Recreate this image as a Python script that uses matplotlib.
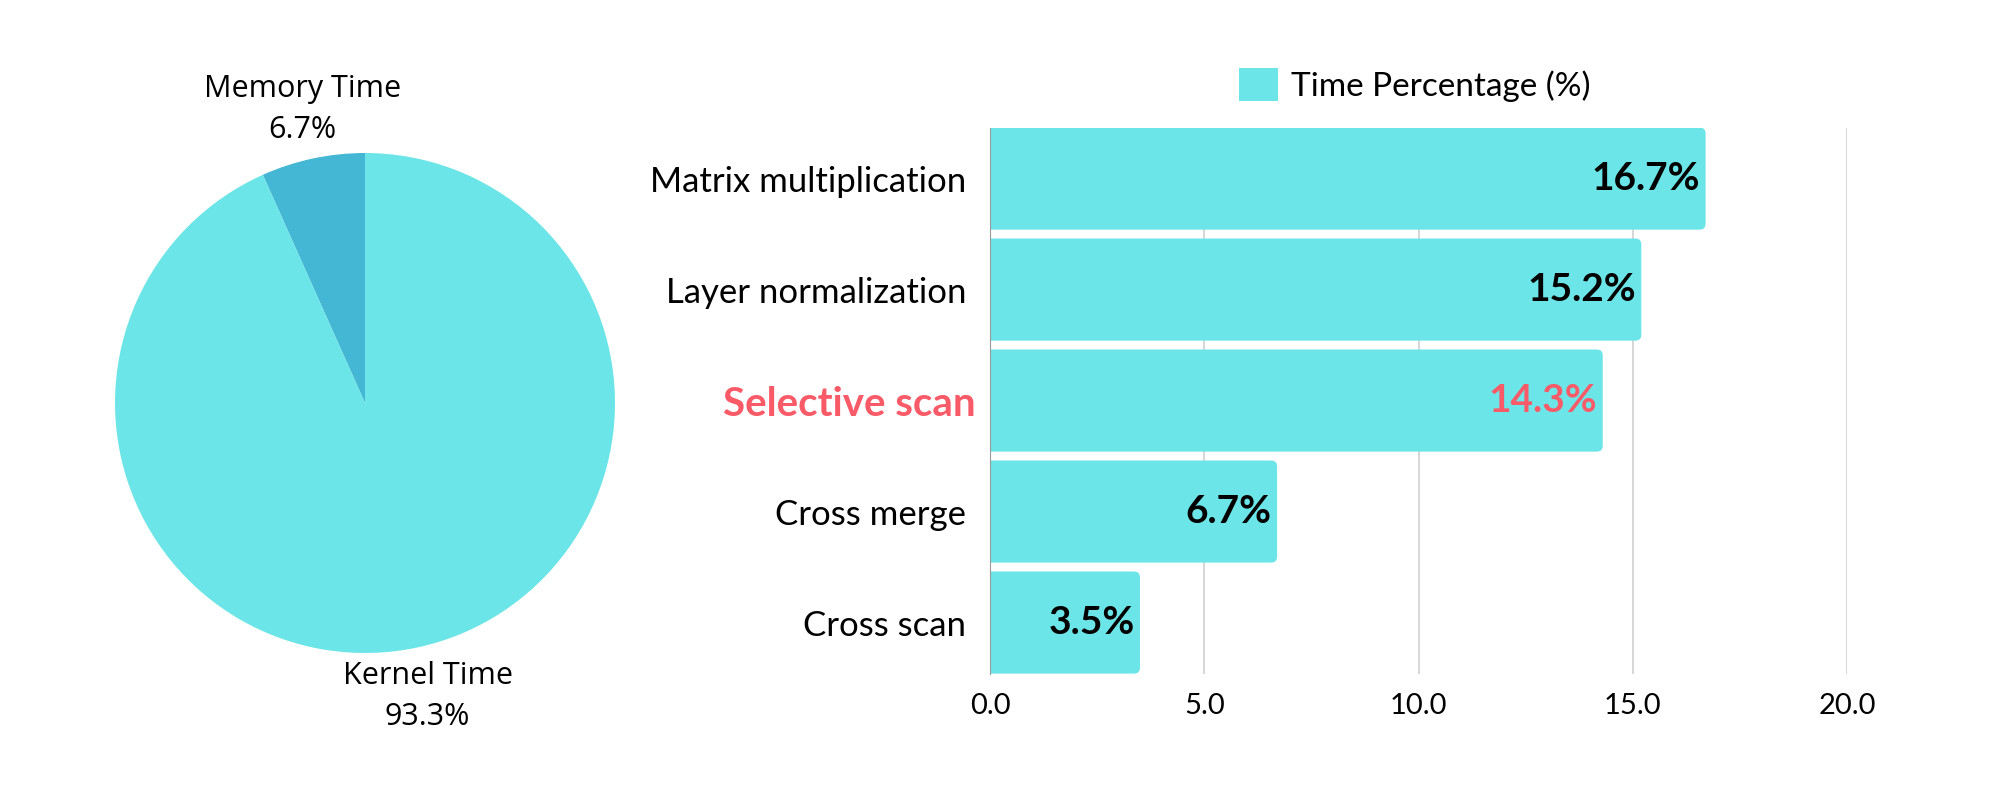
import matplotlib.pyplot as plt
import numpy as np
from matplotlib.patches import FancyBboxPatch, Patch
from matplotlib.transforms import ScaledTranslation

plt.rcParams['font.family'] = ['Lato', 'DejaVu Sans']

# pie data
pie_labels = ['Memory Time', 'Kernel Time']
pie_values = [6.7, 93.3]
pie_colors = ['#43B7D4', '#6BE5E8']

# bar data
categories = ['Matrix multiplication', 'Layer normalization', 'Selective scan',
              'Cross merge', 'Cross scan']
percentages = [16.7, 15.2, 14.3, 6.7, 3.5]
highlight = 'Selective scan'
x_ticks = [0.0, 5.0, 10.0, 15.0, 20.0]

cyan = '#6BE5E8'
red = '#F95A67'

fig = plt.figure(figsize=(20, 8), dpi=100)

# --- pie ---
ax1 = fig.add_axes([0.0575, 0.18375, 0.25, 0.625])
texts = ax1.pie(pie_values, colors=pie_colors, startangle=90, counterclock=True,
                labels=[f'{l}\n{v}%' for l, v in zip(pie_labels, pie_values)],
                labeldistance=1.2,
                textprops={'fontsize': 22, 'family': ['Open Sans', 'DejaVu Sans'],
                           'linespacing': 1.45})[1]
for t in texts:
    t.set_ha('center')
    t.set_va('center')
ax1.set_xlim(-1, 1)
ax1.set_ylim(-1, 1)
ax1.set_aspect('equal')

# --- bars ---
ax2 = fig.add_axes([0.495, 0.158, 0.4285, 0.6826])
y = np.arange(len(categories))
bars = ax2.barh(y, percentages, height=0.92, color=cyan, zorder=2)
ax2.set_ylim(len(categories) - 0.54, -0.46)
ax2.set_xlim(0, 20)

# rounded right ends: swap each bar for a rounded box of the same size
asp = (ax2.get_position().width * 2000 / 20) / (ax2.get_position().height * 800 / 4.92)
for b in bars:
    x0, y0, w, h = b.get_x(), b.get_y(), b.get_width(), b.get_height()
    ax2.add_patch(FancyBboxPatch((x0 - 0.5, y0), w + 0.5, h,
                                 boxstyle='round,pad=0,rounding_size=0.14',
                                 mutation_aspect=asp, facecolor=cyan,
                                 edgecolor='none', zorder=2))
    b.set_visible(False)

ax2.set_xticks(x_ticks)
ax2.set_xticklabels([f'{t:.1f}' for t in x_ticks], fontsize=21)
ax2.set_yticks(y)
ax2.set_yticklabels(categories, fontsize=25)
ax2.tick_params(axis='both', length=0)
ax2.tick_params(axis='x', pad=14)
ax2.tick_params(axis='y', pad=17)
for lab in ax2.get_yticklabels():
    if lab.get_text() == highlight:
        lab.set_color(red)
        lab.set_fontweight('bold')
        lab.set_fontsize(29)
        lab.set_transform(lab.get_transform() +
                          ScaledTranslation(7 / 72, 0, fig.dpi_scale_trans))
ax2.grid(axis='x', color='#D0D0D0', linewidth=1.2, zorder=0)
ax2.set_axisbelow(True)
for s in ['top', 'right', 'bottom']:
    ax2.spines[s].set_visible(False)
ax2.spines['left'].set_color('#999999')
ax2.spines['left'].set_zorder(3)

for b, v, c in zip(bars, percentages, categories):
    col = red if c == highlight else 'black'
    ax2.annotate(f'{v}%', (v, b.get_y() + b.get_height() / 2),
                 xytext=(-4, 0), textcoords='offset points',
                 ha='right', va='center', fontsize=28, fontweight='bold',
                 color=col, zorder=4)

fig.legend(handles=[Patch(facecolor=cyan)], labels=['Time Percentage (%)'],
           loc='center', bbox_to_anchor=(0.7075, 0.894), frameon=False, fontsize=24,
           handlelength=1.15, handleheight=1.15, handletextpad=0.4)

fig.savefig('out.png')
